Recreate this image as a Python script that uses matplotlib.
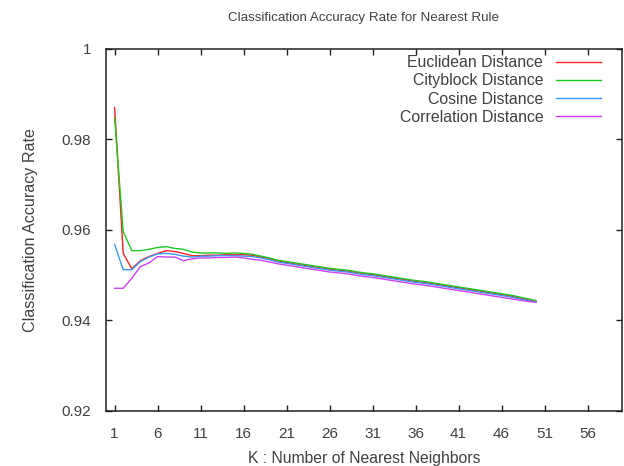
import numpy as np
import matplotlib
matplotlib.use("Agg")
import matplotlib.pyplot as plt

plt.rcParams["font.family"] = ["Liberation Sans", "DejaVu Sans"]

k = list(range(1, 51))

euclidean = [0.9870, 0.9548, 0.9514, 0.9532, 0.9541, 0.9548, 0.9554, 0.9552, 0.9548, 0.9543,
             0.9543, 0.9544, 0.9544, 0.9545, 0.9545, 0.9545, 0.9544, 0.9540, 0.9536, 0.9531,
             0.9528, 0.9525, 0.9522, 0.9519, 0.9516, 0.9513, 0.9511, 0.9509, 0.9506, 0.9503,
             0.9501, 0.9498, 0.9495, 0.9492, 0.9489, 0.9486, 0.9484, 0.9481, 0.9478, 0.9475,
             0.9472, 0.9469, 0.9466, 0.9463, 0.9460, 0.9457, 0.9454, 0.9450, 0.9446, 0.9442]
cityblock = [0.9848, 0.9596, 0.9554, 0.9554, 0.9557, 0.9561, 0.9563, 0.9559, 0.9557, 0.9551,
             0.9549, 0.9549, 0.9549, 0.9548, 0.9549, 0.9548, 0.9546, 0.9542, 0.9538, 0.9533,
             0.9530, 0.9527, 0.9524, 0.9521, 0.9518, 0.9515, 0.9513, 0.9511, 0.9508, 0.9505,
             0.9503, 0.9500, 0.9497, 0.9494, 0.9491, 0.9488, 0.9486, 0.9483, 0.9480, 0.9477,
             0.9474, 0.9471, 0.9468, 0.9465, 0.9462, 0.9459, 0.9456, 0.9452, 0.9448, 0.9444]
cosine = [0.9568, 0.9512, 0.9512, 0.9530, 0.9540, 0.9547, 0.9548, 0.9546, 0.9542, 0.9540,
          0.9542, 0.9542, 0.9543, 0.9543, 0.9543, 0.9542, 0.9541, 0.9538, 0.9534, 0.9529,
          0.9526, 0.9523, 0.9520, 0.9517, 0.9514, 0.9511, 0.9509, 0.9507, 0.9504, 0.9501,
          0.9499, 0.9496, 0.9493, 0.9490, 0.9487, 0.9484, 0.9482, 0.9479, 0.9476, 0.9473,
          0.9470, 0.9467, 0.9464, 0.9461, 0.9458, 0.9455, 0.9452, 0.9448, 0.9444, 0.9441]
correlation = [0.9471, 0.9471, 0.9493, 0.9519, 0.9527, 0.9541, 0.9540, 0.9540, 0.9532, 0.9536,
               0.9538, 0.9538, 0.9539, 0.9539, 0.9540, 0.9538, 0.9535, 0.9533, 0.9529, 0.9525,
               0.9522, 0.9519, 0.9516, 0.9513, 0.9510, 0.9507, 0.9505, 0.9503, 0.9500, 0.9497,
               0.9495, 0.9492, 0.9489, 0.9486, 0.9483, 0.9480, 0.9478, 0.9475, 0.9472, 0.9469,
               0.9466, 0.9463, 0.9460, 0.9457, 0.9454, 0.9451, 0.9448, 0.9445, 0.9442, 0.9440]

series = [
    ("Euclidean Distance", euclidean, "#ff2020"),
    ("Cityblock Distance", cityblock, "#20c820"),
    ("Cosine Distance", cosine, "#3a98f0"),
    ("Correlation Distance", correlation, "#d040f8"),
]

xticks = list(range(1, 60, 5))
yticks = [0.92, 0.94, 0.96, 0.98, 1.0]
ytick_labels = ["0.92", "0.94", "0.96", "0.98", "1"]

txt = "#404040"

fig = plt.figure(figsize=(6.24, 4.66), dpi=100)
ax = fig.add_axes([106 / 624, 1 - 411 / 466, 516 / 624, 362.3 / 466])

for name, vals, col in series:
    ax.plot(k, vals, color=col, lw=1.0, label=name)

ax.set_xlim(0, 60)
ax.set_ylim(0.92, 1.0)
ax.set_xticks(xticks)
ax.set_yticks(yticks)
ax.set_yticklabels(ytick_labels)
ax.tick_params(direction="in", length=4, width=1, top=True, right=True,
               labelsize=11, labelcolor=txt, color="#202020")
ax.tick_params(axis="x", pad=11.5)
ax.tick_params(axis="y", pad=10.5)
for s in ax.spines.values():
    s.set_linewidth(1.1)
    s.set_color("#202020")

ax.set_xlabel("K : Number of Nearest Neighbors", fontsize=11.3, color=txt, labelpad=7)
ax.set_ylabel("Classification Accuracy Rate", fontsize=11.6, color=txt, labelpad=17)
ax.set_title("Classification Accuracy Rate for Nearest Rule", fontsize=9.6, color=txt, pad=20)

# gnuplot-style key: text on the left, sample line on the right
leg = ax.legend(loc="upper right", bbox_to_anchor=(0.977, 1.008), frameon=False,
                markerfirst=False, fontsize=11.4, handlelength=2.8, handletextpad=0.83,
                labelspacing=0.2, borderaxespad=0.2)
for t in leg.get_texts():
    t.set_color(txt)
    t.set_ha("right")

fig.savefig("out.png", dpi=100)
